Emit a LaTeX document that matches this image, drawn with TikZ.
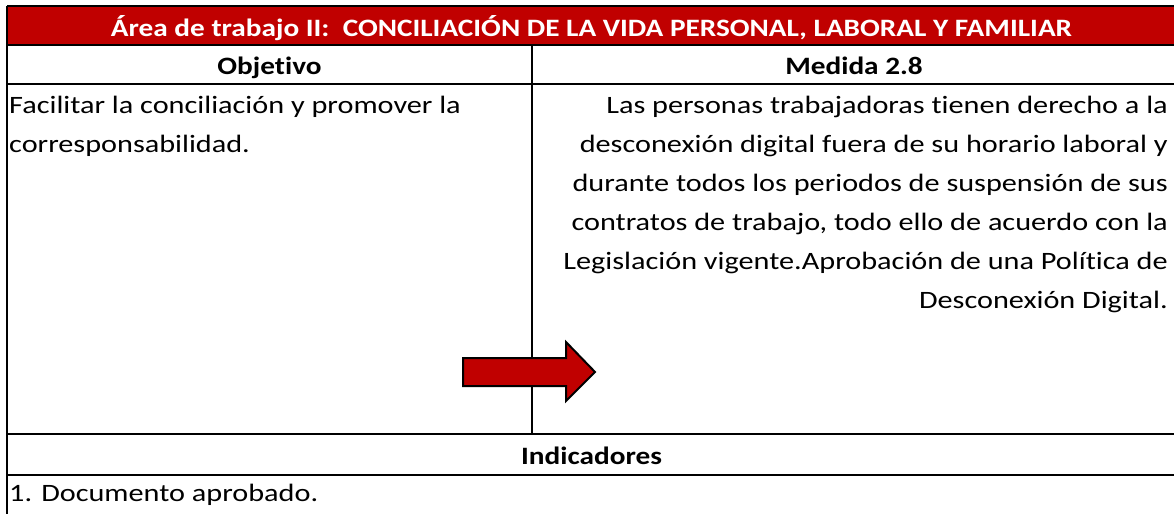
\documentclass[tikz,border=0pt]{standalone}
\usepackage{fontspec}
\setmainfont{Carlito}[FakeStretch = 1.21, Ligatures = NoCommon, BoldFeatures = {FakeStretch = 1.17}]
\definecolor{bandred}{HTML}{C00000}
\tikzset{
  rule/.style = {draw = black, line width = 1.6pt},
  cell/.style = {inner sep = 0pt, font = \fontsize{25}{39}\selectfont},
  headcell/.style = {cell, font = \fontsize{25}{39}\selectfont\bfseries},
  arrowfill/.style = {fill = bandred, draw = black, line width = 2pt, line join = miter}
}
\begin{document}
\begin{tikzpicture}[x = 1pt, y = -1pt]
\useasboundingbox (0,0) rectangle (1174,514);
\pgfmathsetmacro\lft{7}
\pgfmathsetmacro\rgt{1176}
\pgfmathsetmacro\mid{532}
% red title band
\fill[bandred] (\lft,6) rectangle (\rgt,45);
\draw[rule] (\lft,6) -- (\rgt,6);
\foreach \y in {45,84,434,475} \draw[rule] (\lft,\y) -- (\rgt,\y);
\draw[rule] (\lft,6) -- (\lft,514);
\draw[rule] (\mid,45) -- (\mid,434);
\node[headcell, text = white, anchor = base] (title) at ({(\lft+\rgt)/2},36) {Área de trabajo II:\ \ CONCILIACIÓN DE LA VIDA PERSONAL, LABORAL Y FAMILIAR};
\node[headcell, anchor = base] (objetivo) at ({(\lft+\mid)/2},74) {Objetivo};
\node[headcell, anchor = base] (medida) at ({(\mid+\rgt)/2},74) {Medida 2.8};
% base of a multi-line node is its last line
\node[cell, anchor = base west, align = left] (objtext) at (9,152) {Facilitar la conciliación y promover la\\corresponsabilidad.};
\node[cell, anchor = base east, align = right] (medtext) at (1168,308) {Las personas trabajadoras tienen derecho a la\\desconexión digital fuera de su horario laboral y\\durante todos los periodos de suspensión de sus\\contratos de trabajo, todo ello de acuerdo con la\\Legislación vigente.Aprobación de una Política de\\Desconexión Digital.};
\node[headcell, anchor = base] (indicadores) at ({(\lft+\rgt)/2},464) {Indicadores};
\node[cell, anchor = base west] (indtext) at (9,501) {1. Documento aprobado.};
% block arrow over the divider
\draw[arrowfill] (463,358) -- (566,358) -- (566,342) -- (595,372) -- (566,401) -- (566,386) -- (463,386) -- cycle;
\end{tikzpicture}
\end{document}
